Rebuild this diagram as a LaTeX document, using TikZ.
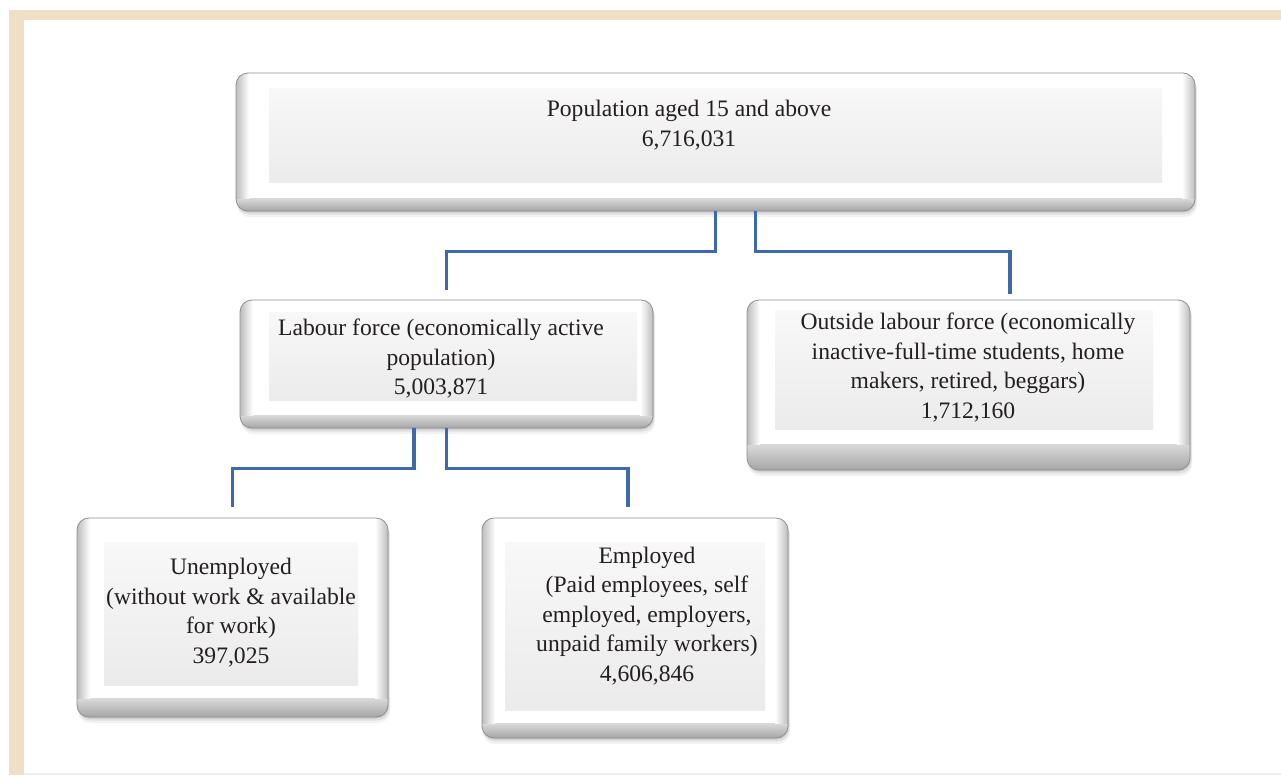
\documentclass[tikz,border=0pt]{standalone}
\usepackage{fontspec}
\setmainfont{Liberation Serif}
\usetikzlibrary{fit}
\definecolor{beige}{HTML}{EFDFC4}
\definecolor{conn}{HTML}{3D68AA}
\definecolor{txt}{HTML}{231F20}
\definecolor{bevdark}{HTML}{A6A6A6}
\definecolor{bevlight}{HTML}{DADADA}
\definecolor{edgegray}{HTML}{BDBDBD}
\definecolor{innertop}{HTML}{F8F8F8}
\definecolor{innerbot}{HTML}{EBEBEB}
\definecolor{bordergray}{HTML}{8E8E8E}
% #1 name, #2 x1, #3 y1, #4 x2, #5 y2, #6 bottom of white area, #7 inner nw, #8 inner se
\newcommand{\bevbox}[8]{%
  \fill[black,opacity=0.05,rounded corners=9pt] (#2+1,#3+5) rectangle (#4+2,#5+6);
  \fill[black,opacity=0.07,rounded corners=9pt] (#2+1,#3+3) rectangle (#4+1.5,#5+3.5);
  \fill[black,opacity=0.10,rounded corners=9pt] (#2+0.5,#3+1.5) rectangle (#4+0.5,#5+1.5);
  \begin{scope}
    \clip[rounded corners=9pt] (#2,#3) rectangle (#4,#5);
    \fill[white] (#2,#3) rectangle (#4,#5);
    \shade[top color=bevlight, bottom color=bevdark] (#2,#6) rectangle (#4,#5);
    \shade[left color=edgegray, right color=white] (#2,#3) rectangle (#2+13,#6);
    \shade[left color=white, right color=edgegray] (#4-13,#3) rectangle (#4,#6);
  \end{scope}
  \draw[bordergray, line width=0.6pt, rounded corners=9pt] (#2,#3) rectangle (#4,#5);
  \shade[top color=innertop, bottom color=innerbot] #7 rectangle #8;
  \path (#2,#3) coordinate (#1-nw) (#4,#5) coordinate (#1-se);
  \node[fit=(#1-nw)(#1-se), inner sep=0pt, draw=none] (#1) {};
}
\begin{document}
\begin{tikzpicture}[x=0.75pt,y=-0.75pt,
  connector/.style={draw=conn, line width=2.5pt, line join=miter},
  lbl/.style={align=center, inner sep=0pt, text=txt, font=\fontsize{17.7}{22.1}\selectfont}]
\fill[white] (0,0) rectangle (1281,775);
\useasboundingbox (0,0) rectangle (1281,775);
% frame
\fill[beige] (9,10) rectangle (1281,20);
\fill[beige] (9,10) rectangle (24,775);
\fill[black!7] (24,772.5) rectangle (1281,775);

% boxes
\bevbox{top}{236}{73}{1195}{211}{198}{(269,88)}{(1162,182)}
\bevbox{labour}{240}{300}{653}{428}{415}{(269,312)}{(637,400)}
\bevbox{outside}{747}{300}{1190}{470}{444}{(775,310)}{(1153,429)}
\bevbox{unemp}{77}{518}{388}{717}{698}{(104,542)}{(358,685)}
\bevbox{emp}{482}{518}{788}{738}{723}{(505,542)}{(765,710)}

% texts
\node[lbl] (top-text) at (689,125) {Population aged 15 and above\\6,716,031};
\node[lbl] (labour-text) at (441,358.5) {Labour force (economically active\\population)\\5,003,871};
\node[lbl] (outside-text) at (968,367.5) {Outside labour force (economically\\inactive-full-time students, home\\makers, retired, beggars)\\1,712,160};
\node[lbl] (unemp-text) at (231,612.5) {Unemployed\\(without work \& available\\for work)\\397,025};
\node[lbl] (emp-text) at (647,616) {Employed\\(Paid employees, self\\employed, employers,\\unpaid family workers)\\4,606,846};

% connectors
\draw[connector, shorten >=7.5pt] (top.south) -- ++(0,40) -| (labour.north);
\draw[connector, shorten >=4.5pt] ([xshift=30pt]top.south) -- ++(0,40) -| ([xshift=31pt]outside.north);
\draw[connector, shorten >=8pt] ([xshift=-24.4pt]labour.south) -- ++(0,40) -| (unemp.north);
\draw[connector, shorten >=8pt] (labour.south) -- ++(0,40) -| ([xshift=-5.25pt]emp.north);
\end{tikzpicture}
\end{document}
